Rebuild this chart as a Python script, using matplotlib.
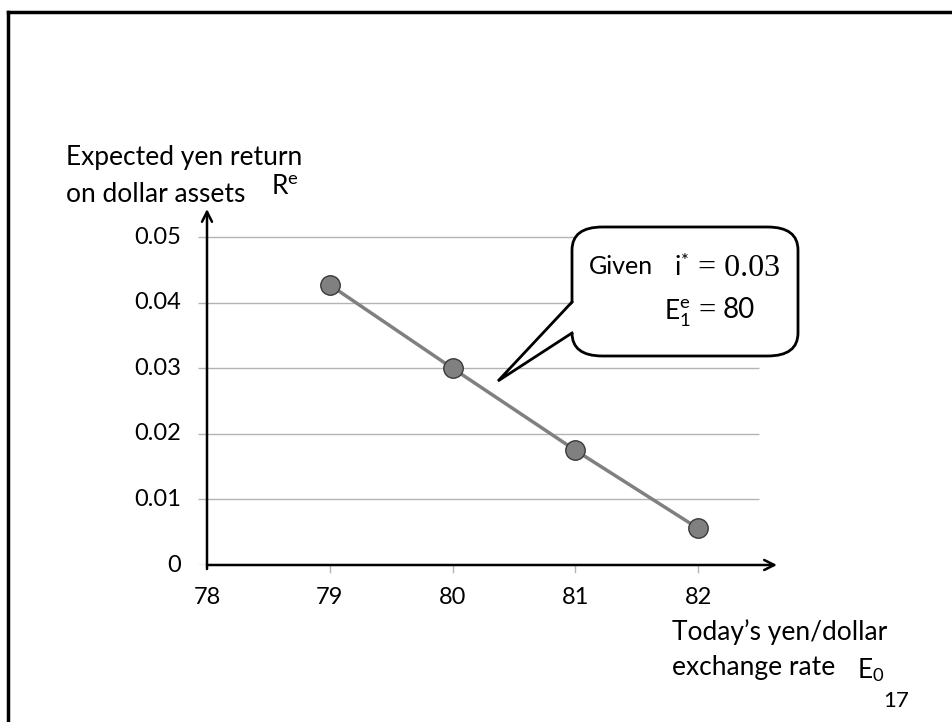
import matplotlib
matplotlib.use("Agg")
import matplotlib.pyplot as plt
from matplotlib.patches import FancyBboxPatch, Polygon
from matplotlib.lines import Line2D

plt.rcParams["mathtext.fontset"] = "custom"
plt.rcParams["mathtext.rm"] = "Lato"
plt.rcParams["mathtext.it"] = "Lato:italic"

# Exchange rate (yen/dollar) and expected yen return on dollar assets
rates = [79, 80, 81, 82]
returns = [0.0427, 0.0300, 0.0175, 0.0056]
xticks = [78, 79, 80, 81, 82]
yticks = [0, 0.01, 0.02, 0.03, 0.04, 0.05]
ytick_labels = ["0", "0.01", "0.02", "0.03", "0.04", "0.05"]

W, H = 952, 722
FONT = "Lato"
fig = plt.figure(figsize=(W / 100, H / 100), dpi=100)


def fx(px):
    return px / W


def fy(py):
    return 1 - py / H


# slide frame (left and top edges)
fig.add_artist(Line2D([fx(8), fx(8)], [fy(12), 0], color="black", lw=2.5))
fig.add_artist(Line2D([fx(8), 1], [fy(12), fy(12)], color="black", lw=2.5))

# axes: 78 -> x=207px, 82 -> x=698px ; 0 -> y=565px, 0.05 -> y=237px
ppu_x = (698 - 207) / 4.0
ppu_y = (565 - 237) / 0.05
x_left_px, x_right_px = 198, 777
y_top_px, y_bot_px = 209, 565
x0 = 78 - (207 - x_left_px) / ppu_x
x1 = 78 + (x_right_px - 207) / ppu_x
y1 = (565 - y_top_px) / ppu_y
ax = fig.add_axes([fx(x_left_px), fy(y_bot_px), (x_right_px - x_left_px) / W,
                   (y_bot_px - y_top_px) / H])
ax.set_xlim(x0, x1)
ax.set_ylim(0, y1)
ax.axis("off")

# horizontal gridlines
grid_end = 78 + (759 - 207) / ppu_x
ax.hlines(yticks[1:], x0, grid_end, color="#b3b3b3", lw=1.0, zorder=1)
ax.hlines([0], x0, 78, color="#b3b3b3", lw=1.0, zorder=1)
# small tick marks below the x axis
for t in xticks[1:]:
    ax.plot([t, t], [0, -7 / ppu_y], color="#b3b3b3", lw=1.0, clip_on=False, zorder=1)

# axis arrows
ax.annotate("", xy=(x1, 0), xytext=(78, 0),
            arrowprops=dict(arrowstyle="->", lw=1.8, color="black",
                            mutation_scale=18, shrinkA=0, shrinkB=0),
            annotation_clip=False)
ax.annotate("", xy=(78, y1), xytext=(78, -4 / ppu_y),
            arrowprops=dict(arrowstyle="->", lw=1.8, color="black",
                            mutation_scale=18, shrinkA=0, shrinkB=0),
            annotation_clip=False)

# data line with markers
ax.plot(rates, returns, color="#808080", lw=2.5, zorder=3,
        marker="o", markersize=14, markerfacecolor="#808080",
        markeredgecolor="#3a3a3a", markeredgewidth=1.0)

# tick labels
for t in xticks:
    ax.text(t, -33 / ppu_y, str(t), ha="center", va="center",
            fontsize=17, family=FONT, clip_on=False)
for v, lab in zip(yticks, ytick_labels):
    ax.text(78 - 26 / ppu_x, v, lab, ha="right", va="center",
            fontsize=17, family=FONT, clip_on=False)

# axis titles
fig.text(fx(66), fy(158), "Expected yen return", ha="left", va="center",
         fontsize=19, family=FONT)
fig.text(fx(66), fy(194), "on dollar assets", ha="left", va="center",
         fontsize=19, family=FONT)
fig.text(fx(271), fy(187), r"$\mathrm{R}^{\mathrm{e}}$", ha="left", va="center",
         fontsize=19)

fig.text(fx(672), fy(632), "Today\u2019s yen/dollar", ha="left", va="center",
         fontsize=19, family=FONT)
fig.text(fx(672), fy(667), "exchange rate", ha="left", va="center",
         fontsize=19, family=FONT)
fig.text(fx(857), fy(670), r"$\mathrm{E}_{\mathrm{0}}$", ha="left", va="center",
         fontsize=19)

# page number
fig.text(fx(896), fy(701), "17", ha="center", va="center", fontsize=16, family=FONT)

# callout bubble
bx0, by0, bx1, by1 = 572, 227, 798, 356
box = FancyBboxPatch((fx(bx0), fy(by1)), fx(bx1 - bx0), (by1 - by0) / H,
                     boxstyle="round,pad=0,rounding_size=0.032",
                     transform=fig.transFigure, facecolor="white",
                     edgecolor="black", lw=2.0, zorder=5)
fig.add_artist(box)
tip = (498, 381)
t_a = (bx0, 302)
t_b = (bx0, 333)
tail = Polygon([(fx(t_a[0] + 2), fy(t_a[1])), (fx(tip[0]), fy(tip[1])),
                (fx(t_b[0] + 2), fy(t_b[1]))], closed=True,
               transform=fig.transFigure, facecolor="white", edgecolor="none",
               zorder=6)
fig.add_artist(tail)
fig.add_artist(Line2D([fx(t_a[0]), fx(tip[0]), fx(t_b[0])],
                      [fy(t_a[1]), fy(tip[1]), fy(t_b[1])],
                      color="black", lw=2.0, zorder=7, solid_joinstyle="miter"))

fig.text(fx(589), fy(267), "Given", ha="left", va="center", fontsize=18,
         family=FONT, zorder=8)
fig.text(fx(674), fy(268), r"$\mathrm{i}^{*}$", ha="left", va="center",
         fontsize=19, zorder=8)
fig.text(fx(698), fy(269), "= 0.03", ha="left", va="center", fontsize=23,
         family="Liberation Serif", zorder=8)
fig.text(fx(664), fy(313), r"$\mathrm{E}_{\mathrm{1}}^{\mathrm{e}}$", ha="left",
         va="center", fontsize=19, zorder=8)
fig.text(fx(698), fy(311), "=", ha="left", va="center", fontsize=22,
         family="Liberation Serif", zorder=8)
fig.text(fx(723), fy(310), "80", ha="left", va="center", fontsize=20,
         family=FONT, zorder=8)

fig.savefig("out.png", dpi=100, facecolor="white")
